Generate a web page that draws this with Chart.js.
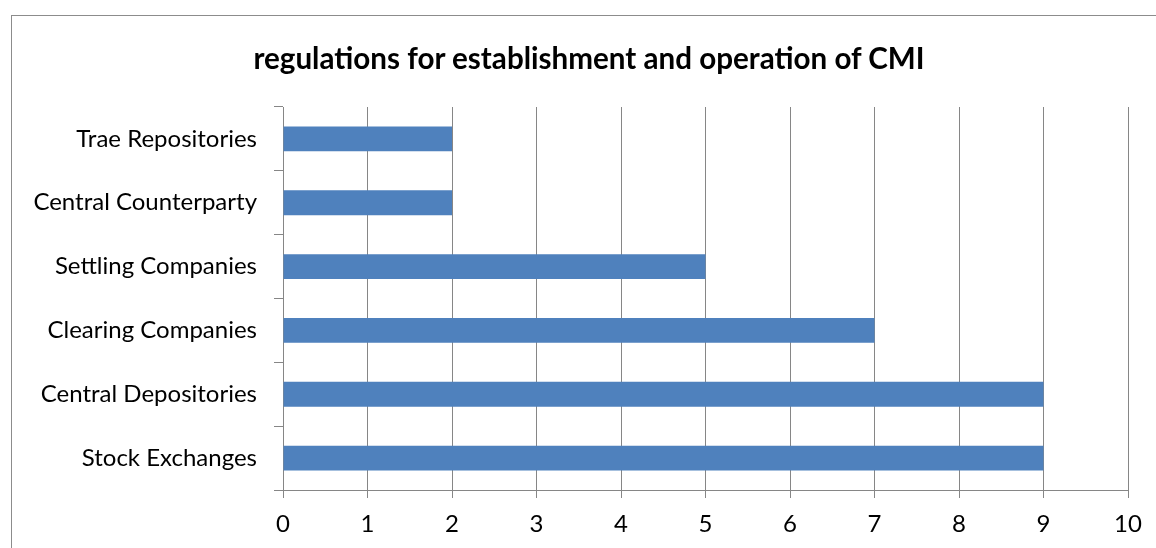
<!DOCTYPE html>
<html>
<head>
<meta charset="utf-8">
<script src="https://cdn.jsdelivr.net/npm/chart.js@4.4.1/dist/chart.umd.min.js"></script>
<style>
  html, body { margin: 0; padding: 0; background: #fff; overflow: hidden; }
  #wrap { position: relative; width: 1156px; height: 548px; }
  #frame {
    position: absolute; left: 11px; top: 15px; width: 1200px; height: 600px;
    border: 1px solid #8c8c8c; box-sizing: border-box;
  }
  #title {
    position: absolute; left: 189px; width: 800px; top: 40px; height: 36px;
    line-height: 36px; text-align: center; white-space: nowrap;
    font-family: Lato, "Open Sans", sans-serif; font-weight: bold; font-size: 29.6px; color: #000;
  }
  canvas { position: absolute; left: 0; top: 0; }
</style>
</head>
<body>
<div id="wrap">
  <div id="frame"></div>
  <canvas id="chart" width="1156" height="548"></canvas>
  <div id="title"></div>
</div>
<script>
const chartTitle = 'regulations for establishment and operation of CMI';
const categories = [
  'Trae Repositories',
  'Central Counterparty',
  'Settling Companies',
  'Clearing Companies',
  'Central Depositories',
  'Stock Exchanges'
];
const counts = [2, 2, 5, 7, 9, 9];
const xTicks = [0, 1, 2, 3, 4, 5, 6, 7, 8, 9, 10];

const axisGray = '#868686';
const fontFamily = 'Lato, "Open Sans", sans-serif';

document.getElementById('title').textContent = chartTitle;

const ctx = document.getElementById('chart');

new Chart(ctx, {
  type: 'bar',
  data: {
    labels: categories,
    datasets: [
      {
        data: counts,
        backgroundColor: '#4f81bd',
        borderWidth: 0,
        barPercentage: 0.39,
        categoryPercentage: 1
      }
    ]
  },
  options: {
    indexAxis: 'y',
    responsive: false,
    animation: false,
    layout: { padding: { left: 0, right: 28, top: 107, bottom: 0 } },
    plugins: {
      legend: { display: false },
      tooltip: { enabled: false },
      title: { display: false }
    },
    scales: {
      x: {
        min: 0,
        max: 10,
        afterBuildTicks: (scale) => {
          scale.ticks = xTicks.map((v) => ({ value: v }));
        },
        afterFit: (scale) => {
          scale.height = 58;
        },
        border: { display: true, color: axisGray, width: 1 },
        grid: { color: axisGray, lineWidth: 1, tickLength: 8, drawTicks: true },
        ticks: { color: '#000', padding: 12, font: { family: fontFamily, size: 24 } }
      },
      y: {
        afterFit: (scale) => {
          scale.width = 283;
        },
        border: { display: true, color: axisGray, width: 1 },
        grid: { drawOnChartArea: false, color: axisGray, tickLength: 9, offset: true },
        ticks: { color: '#000', padding: 17, font: { family: fontFamily, size: 24 } }
      }
    }
  }
});
</script>
</body>
</html>
